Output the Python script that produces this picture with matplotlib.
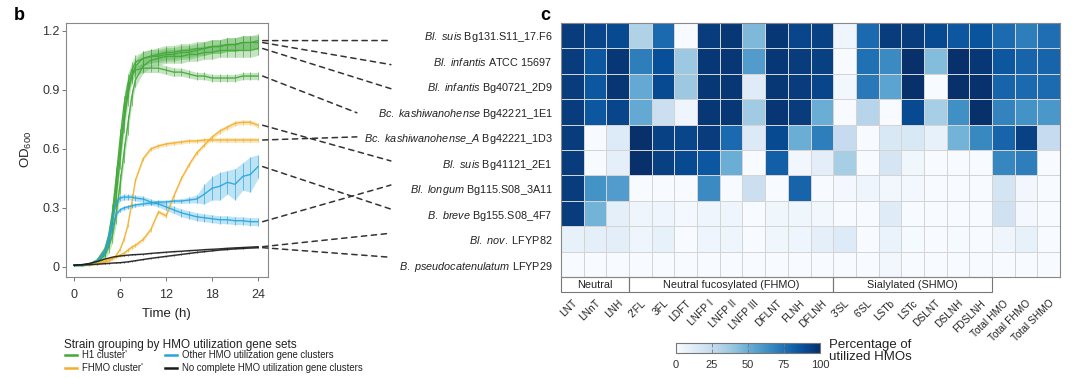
import numpy as np
import matplotlib.pyplot as plt
from matplotlib.lines import Line2D
from matplotlib.patches import Rectangle, ConnectionPatch

plt.rcParams['font.family'] = ['Liberation Sans', 'DejaVu Sans']
plt.rcParams['mathtext.fontset'] = 'custom'
plt.rcParams['mathtext.rm'] = 'Liberation Sans'
plt.rcParams['mathtext.it'] = 'Liberation Sans:italic'

# ---- panel b: growth curves (OD600) ----
t_h = [0, 1, 2, 3, 4, 4.5, 5, 5.5, 6, 6.5, 7, 7.5, 8, 9, 10, 11, 12,
       13, 14, 15, 16, 17, 18, 19, 20, 21, 22, 23, 24]

# H1 cluster
od_suis_131 = [.01, .01, .015, .03, .07, .13, .22, .36, .55, .73, .87, .97, 1.02, 1.06, 1.07, 1.08, 1.09,
               1.09, 1.10, 1.10, 1.11, 1.11, 1.12, 1.12, 1.13, 1.13, 1.14, 1.14, 1.15]
od_inf_atcc = [.01, .01, .015, .035, .09, .16, .28, .46, .65, .82, .93, 1.00, 1.04, 1.06, 1.07, 1.07, 1.08,
               1.08, 1.09, 1.09, 1.10, 1.11, 1.12, 1.12, 1.13, 1.13, 1.14, 1.14, 1.14]
od_inf_2d9 = [.01, .01, .012, .025, .06, .10, .16, .27, .42, .58, .72, .86, .95, 1.02, 1.05, 1.06, 1.07,
              1.07, 1.07, 1.08, 1.08, 1.09, 1.09, 1.10, 1.10, 1.10, 1.10, 1.10, 1.11]
od_kash_1e1 = [.01, .01, .015, .03, .08, .14, .25, .42, .60, .77, .90, .97, 1.00, 1.01, 1.01, 1.01, 1.00,
               .99, .99, .98, .97, .97, .96, .96, .96, .96, .97, .97, .97]
# FHMO cluster
od_kashA_1d3 = [.01, .01, .01, .015, .025, .03, .04, .06, .09, .14, .21, .32, .44, .55, .60, .615, .625,
                .63, .635, .64, .64, .645, .645, .645, .645, .645, .645, .645, .645]
od_suis_2e1 = [.01, .01, .012, .02, .03, .04, .045, .05, .06, .07, .085, .10, .11, .14, .19, .28, .26,
               .36, .45, .52, .58, .62, .66, .69, .71, .73, .735, .735, .72]
# other clusters
od_longum = [.01, .01, .015, .03, .08, .15, .25, .33, .35, .355, .355, .355, .35, .345, .33, .32, .305,
             .29, .275, .265, .255, .25, .245, .24, .24, .235, .235, .23, .23]
od_breve = [.01, .01, .015, .03, .07, .12, .20, .27, .29, .30, .305, .31, .315, .32, .325, .33, .33,
            .335, .335, .34, .345, .37, .40, .41, .43, .42, .46, .47, .51]
# no complete cluster
od_nov = [.01, .012, .018, .028, .04, .045, .05, .053, .056, .058, .06, .062, .063, .065, .069, .072, .075,
          .078, .08, .083, .085, .088, .09, .092, .095, .097, .099, .101, .103]
od_pseudo = [.008, .01, .012, .014, .017, .018, .02, .021, .022, .024, .026, .029, .032, .038, .044, .049, .054,
             .059, .064, .069, .074, .078, .082, .086, .089, .092, .094, .096, .098]

# error (sd) per curve
sd_green = [.005, .005, .005, .01, .02, .03, .04, .05, .05, .05, .05, .04, .035, .035, .035, .035, .035,
            .035, .035, .035, .035, .035, .035, .035, .035, .035, .035, .035, .035]
sd_green4 = [.005, .005, .005, .01, .02, .03, .04, .05, .05, .05, .04, .03, .025, .022, .022, .022, .022,
             .022, .02, .02, .018, .018, .018, .018, .018, .018, .018, .018, .018]
sd_orange = [.003, .003, .003, .004, .005, .005, .006, .007, .008, .008, .009, .01, .01, .01, .01, .01, .01,
             .01, .01, .01, .01, .01, .01, .012, .012, .012, .012, .012, .012]
sd_longum = [.004, .004, .004, .006, .01, .012, .015, .015, .015, .015, .015, .015, .015, .015, .015, .015, .018,
             .018, .02, .02, .02, .02, .02, .02, .02, .02, .02, .02, .02]
sd_breve = [.004, .004, .004, .006, .01, .01, .01, .01, .01, .01, .01, .01, .01, .01, .01, .01, .01,
            .01, .012, .015, .02, .05, .06, .07, .06, .08, .07, .09, .06]
sd_black = [.002] * 29

# ---- panel c: percentage of utilized HMOs ----
strains = [r'$\mathit{Bl.\ suis}$ Bg131.S11_17.F6',
           r'$\mathit{Bl.\ infantis}$ ATCC 15697',
           r'$\mathit{Bl.\ infantis}$ Bg40721_2D9',
           r'$\mathit{Bc.\ kashiwanohense}$ Bg42221_1E1',
           r'$\mathit{Bc.\ kashiwanohense\_A}$ Bg42221_1D3',
           r'$\mathit{Bl.\ suis}$ Bg41121_2E1',
           r'$\mathit{Bl.\ longum}$ Bg115.S08_3A11',
           r'$\mathit{B.\ breve}$ Bg155.S08_4F7',
           r'$\mathit{Bl.\ nov.}$ LFYP82',
           r'$\mathit{B.\ pseudocatenulatum}$ LFYP29']
hmos = ['LNT', 'LNnT', 'LNH', "2'FL", '3FL', 'LDFT', 'LNFP I', 'LNFP II', 'LNFP III', 'DFLNT',
        'FLNH', 'DFLNH', "3'SL", "6'SL", 'LSTb', 'LSTc', 'DSLNT', 'DSLNH', 'FDSLNH',
        'Total HMO', 'Total FHMO', 'Total SHMO']
groups = ['Neutral', 'Neutral fucosylated (FHMO)', 'Sialylated (SHMO)']
group_size = [3, 9, 7]
util = [
    [95, 92, 90, 32, 78, 0, 95, 97, 45, 97, 92, 93, 5, 78, 95, 95, 90, 85, 86, 77, 70, 76],
    [95, 85, 97, 70, 88, 38, 97, 97, 58, 97, 95, 94, 0, 75, 65, 100, 44, 100, 97, 85, 80, 80],
    [95, 85, 98, 52, 90, 38, 97, 97, 12, 97, 95, 92, 3, 72, 55, 100, 0, 100, 99, 80, 78, 77],
    [95, 85, 92, 52, 22, 5, 97, 97, 37, 98, 95, 50, 0, 30, 0, 90, 35, 63, 100, 68, 62, 60],
    [95, 0, 13, 100, 93, 92, 95, 78, 14, 90, 50, 70, 25, 0, 15, 15, 8, 48, 66, 80, 93, 25],
    [95, 0, 9, 100, 94, 90, 85, 50, 0, 82, 3, 10, 35, 0, 17, 4, 0, 0, 0, 67, 70, 0],
    [95, 62, 58, 0, 0, 0, 65, 0, 22, 0, 80, 0, 2, 5, 3, 2, 0, 0, 0, 18, 3, 0],
    [95, 48, 9, 5, 5, 2, 5, 5, 0, 4, 4, 3, 0, 0, 12, 0, 0, 0, 0, 20, 2, 0],
    [8, 9, 10, 5, 8, 0, 5, 5, 0, 4, 5, 9, 13, 0, 7, 1, 0, 1, 0, 5, 8, 0],
    [0, 0, 0, 0, 0, 0, 0, 0, 0, 0, 0, 0, 0, 0, 3, 0, 0, 0, 0, 0, 0, 0],
]

green = '#44a83a'
orange = '#f2b02e'
blue = '#27a4de'
black = '#1a1a1a'

# curves in heatmap row order
curves = [(od_suis_131, sd_green, green), (od_inf_atcc, sd_green, green),
          (od_inf_2d9, sd_green, green), (od_kash_1e1, sd_green4, green),
          (od_kashA_1d3, sd_orange, orange), (od_suis_2e1, sd_orange, orange),
          (od_longum, sd_longum, blue), (od_breve, sd_breve, blue),
          (od_nov, sd_black, black), (od_pseudo, sd_black, black)]

W, H = 1080, 378
fig = plt.figure(figsize=(W / 100, H / 100), dpi=100)

ax = fig.add_axes([65.7 / W, 1 - 277 / H, (268 - 65.7) / W, (277 - 22.7) / H])
t = np.array(t_h)
for od, sd, c in curves:
    od = np.array(od)
    sd = np.array(sd)
    ax.fill_between(t, od - sd, od + sd, color=c, alpha=0.3, lw=0)
    ax.errorbar(t, od, yerr=sd, color=c, lw=1.0, elinewidth=0.5, alpha=0.9)

ax.set_xlim(-1.1, 25.3)
ax.set_ylim(-0.051, 1.241)
ax.set_xticks([0, 6, 12, 18, 24])
ax.set_yticks([0, 0.3, 0.6, 0.9, 1.2])
ax.set_yticklabels(['0', '0.3', '0.6', '0.9', '1.2'])
ax.tick_params(labelsize=9, length=3, width=0.7, color='#777777', labelcolor='#333333')
ax.tick_params(axis='y', pad=1.5)
ax.tick_params(axis='x', pad=5.5)
for s in ax.spines.values():
    s.set_color('#888888')
    s.set_linewidth(0.8)
ax.set_xlabel('Time (h)', fontsize=9.5, labelpad=5, color='#222222')
ax.set_ylabel('OD$_{600}$', fontsize=9.5, labelpad=6, color='#222222')

fig.text(14 / W, 1 - 15 / H, 'b', fontsize=13, fontweight='bold', va='center')
fig.text(540 / W, 1 - 15 / H, 'c', fontsize=13, fontweight='bold', va='center')

# legend
fig.text(64 / W, 1 - 345 / H, 'Strain grouping by HMO utilization gene sets',
         fontsize=8.5, va='center', color='#222222')
leg = [("H1 cluster'", green, 65, 355), ("FHMO cluster'", orange, 65, 368),
       ('Other HMO utilization gene clusters', blue, 165, 355),
       ('No complete HMO utilization gene clusters', black, 165, 368)]
for lab, c, x0, y0 in leg:
    fig.add_artist(Line2D([x0 / W, (x0 + 12) / W], [1 - y0 / H, 1 - y0 / H],
                          color=c, lw=1.8, transform=fig.transFigure))
    fig.text((x0 + 17.5) / W, 1 - y0 / H, lab, fontsize=6.9, va='center', color='#222222')

# heatmap
axh = fig.add_axes([561 / W, 1 - 277.3 / H, (1060 - 561) / W, (277.3 - 22.7) / H])
data = np.array(util, dtype=float)
mesh = axh.pcolormesh(np.arange(len(hmos) + 1), np.arange(len(strains) + 1), data,
                      cmap='Blues', vmin=0, vmax=100, edgecolors='#d4d4d4', linewidth=0.7)
axh.set_xlim(0, len(hmos))
axh.set_ylim(len(strains), 0)
axh.set_yticks(np.arange(len(strains)) + 0.5)
axh.set_yticklabels(strains, fontsize=7.8, color='#222222')
axh.set_xticks(np.arange(len(hmos)) + 0.5)
axh.set_xticklabels(hmos, fontsize=7.3, rotation=45, ha='right', rotation_mode='anchor',
                    color='#222222')
axh.tick_params(axis='y', length=0, pad=6)
axh.tick_params(axis='x', length=0, pad=15)
for s in axh.spines.values():
    s.set_color('#888888')
    s.set_linewidth(0.8)

# group boxes under the heatmap
x0 = 0
for name, n in zip(groups, group_size):
    axh.add_patch(Rectangle((x0, len(strains)), n, 0.59, fill=False, ec='#777777',
                            lw=0.8, clip_on=False))
    axh.text(x0 + n / 2, len(strains) + 0.3, name, ha='center', va='center',
             fontsize=7.8, color='#222222', clip_on=False)
    x0 += n

# dashed connectors curve end -> strain label
for i, (od, sd, c) in enumerate(curves):
    end_x = -9.0 if i in (3, 4) else -7.5
    con = ConnectionPatch(xyA=(24.6, od[-1]), coordsA=ax.transData,
                          xyB=(end_x, 0.70 + i * 0.946), coordsB=axh.transData,
                          color='#333333', lw=1.1, linestyle=(0, (3.5, 3)))
    con.set_zorder(5)
    fig.add_artist(con)

# colorbar
cax = fig.add_axes([676 / W, 1 - 353 / H, 144 / W, 10 / H])
cb = fig.colorbar(mesh, cax=cax, orientation='horizontal', ticks=[0, 25, 50, 75, 100])
cb.outline.set_edgecolor('#777777')
cb.outline.set_linewidth(0.8)
cax.tick_params(labelsize=8, direction='in', length=3, width=0.6, color='#777777',
                top=True, bottom=True, pad=5, labelcolor='#333333')
fig.text(829 / W, 1 - 351 / H, 'Percentage of\nutilized HMOs', fontsize=9.5,
         va='center', ha='left', color='#222222', linespacing=1.0)

fig.savefig('out.png', dpi=100)
